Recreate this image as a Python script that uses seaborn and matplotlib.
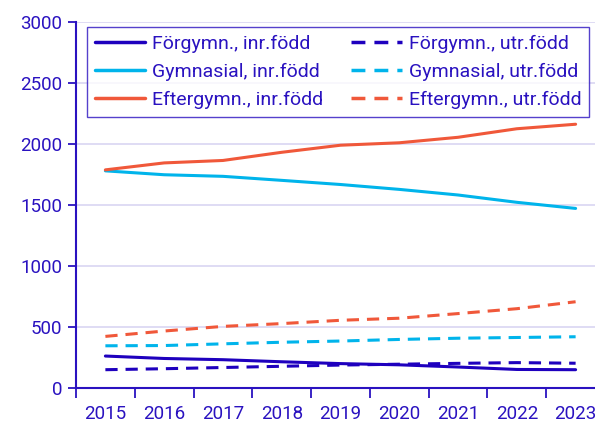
import matplotlib.pyplot as plt
import seaborn as sns
import pandas as pd

sns.set_theme(style="white")
plt.rcParams["font.family"] = ["Roboto", "DejaVu Sans"]

# Data
ar = ["2015", "2016", "2017", "2018", "2019", "2020", "2021", "2022", "2023"]
forgymn_inr = [262, 242, 232, 215, 200, 190, 172, 152, 150]
gymnasial_inr = [1780, 1748, 1735, 1702, 1668, 1628, 1582, 1522, 1472]
eftergymn_inr = [1788, 1845, 1865, 1932, 1990, 2010, 2055, 2125, 2162]
forgymn_utr = [150, 158, 168, 178, 188, 195, 202, 208, 203]
gymnasial_utr = [346, 348, 362, 375, 385, 398, 408, 414, 420]
eftergymn_utr = [423, 467, 505, 528, 555, 572, 610, 650, 707]

serier = {
    "Förgymn., inr.född": forgymn_inr,
    "Gymnasial, inr.född": gymnasial_inr,
    "Eftergymn., inr.född": eftergymn_inr,
    "Förgymn., utr.född": forgymn_utr,
    "Gymnasial, utr.född": gymnasial_utr,
    "Eftergymn., utr.född": eftergymn_utr,
}

rader = []
for namn, varden in serier.items():
    for i, v in enumerate(varden):
        rader.append({"x": i, "värde": v, "serie": namn})
df = pd.DataFrame(rader)

morkbla = "#1E00BE"
ljusbla = "#00B4EB"
orange = "#F0583A"
textfarg = "#2A12C0"
farger = {
    "Förgymn., inr.född": morkbla,
    "Gymnasial, inr.född": ljusbla,
    "Eftergymn., inr.född": orange,
    "Förgymn., utr.född": morkbla,
    "Gymnasial, utr.född": ljusbla,
    "Eftergymn., utr.född": orange,
}
streck = {namn: ("" if "inr" in namn else (4, 2.6)) for namn in serier}

fig = plt.figure(figsize=(5.95, 4.23), dpi=100)
ax = fig.add_axes([76 / 595, 35 / 423, 529 / 595, 366 / 423])

sns.lineplot(data=df, x="x", y="värde", hue="serie", style="serie",
             palette=farger, dashes=streck, linewidth=2.2, ax=ax, legend=True)

ax.set_xlim(-0.5, 8.5)
ax.set_ylim(0, 3000)
ax.set_yticks(range(0, 3001, 500))
ax.set_xticks(range(len(ar)))
ax.set_xticklabels(ar)
ax.set_xticks([i - 0.5 for i in range(len(ar) + 1)], minor=True)
ax.tick_params(axis="x", which="major", length=0, pad=12, labelsize=13.5, colors=textfarg)
ax.tick_params(axis="x", which="minor", length=7, width=1.3, color=textfarg, direction="out", bottom=True)
ax.tick_params(axis="y", length=6, width=1.3, color=textfarg, labelcolor=textfarg, labelsize=13.5, pad=4, left=True)
ax.set_xlabel("")
ax.set_ylabel("")
ax.grid(axis="y", color="#D9D6F2", linewidth=1.2)
ax.set_axisbelow(True)
for s in ["top", "right"]:
    ax.spines[s].set_visible(False)
for s in ["left", "bottom"]:
    ax.spines[s].set_color(textfarg)
    ax.spines[s].set_linewidth(1.5)

handles, labels = ax.get_legend_handles_labels()
leg = ax.legend(handles, labels, ncol=2, loc="upper left",
                bbox_to_anchor=(11 / 529, 361 / 366), bbox_transform=ax.transAxes,
                fontsize=14, frameon=True, fancybox=False, handlelength=2.6,
                handletextpad=0.35, columnspacing=1.45, labelspacing=0.52,
                borderpad=0.4, borderaxespad=0, labelcolor=textfarg)
leg.get_frame().set_edgecolor(textfarg)
leg.get_frame().set_linewidth(1.0)
for line in leg.get_lines():
    line.set_linewidth(2.5)

fig.savefig("out.png", dpi=100)
